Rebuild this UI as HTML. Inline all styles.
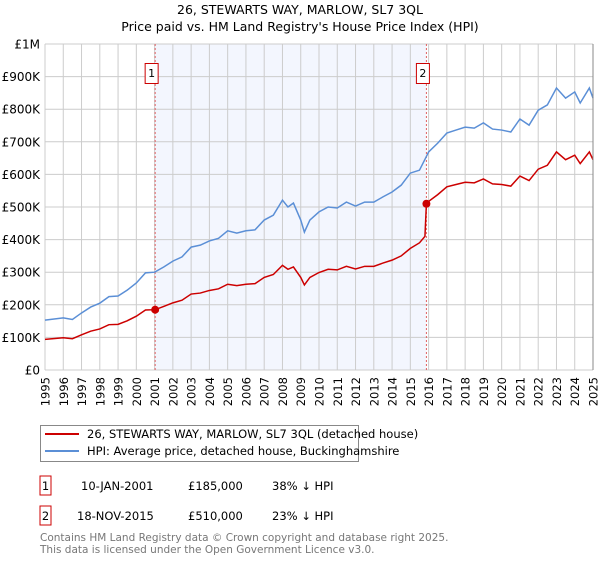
<!DOCTYPE html>
<html><head><meta charset="utf-8"><style>
body{margin:0;background:#fff;font-family:"Liberation Sans","DejaVu Sans",sans-serif}
svg text{font-family:"DejaVu Sans","Liberation Sans",sans-serif}
</style></head><body>
<svg width="600" height="560" xmlns="http://www.w3.org/2000/svg">
<text x="300" y="14" text-anchor="middle" font-size="12.5">26, STEWARTS WAY, MARLOW, SL7 3QL</text>
<text x="300" y="31" text-anchor="middle" font-size="12.5">Price paid vs. HM Land Registry's House Price Index (HPI)</text>
<g id="plot"></g>
<g>
<rect x="40.5" y="425.5" width="318" height="36" fill="#fff" stroke="#888"/>
<line x1="45" y1="434" x2="79" y2="434" stroke="#cc0000" stroke-width="2"/>
<text x="87" y="438" font-size="11.5">26, STEWARTS WAY, MARLOW, SL7 3QL (detached house)</text>
<line x1="45" y1="451" x2="79" y2="451" stroke="#5b8fd6" stroke-width="2"/>
<text x="87" y="455" font-size="11.5">HPI: Average price, detached house, Buckinghamshire</text>
</g>
<g font-size="11.5">
<rect x="40" y="476" width="11" height="19" fill="#fff" stroke="#cc0000"/>
<text x="45.5" y="490" text-anchor="middle">1</text>
<text x="81" y="490">10-JAN-2001</text><text x="188" y="490">£185,000</text><text x="272" y="490">38% ↓ HPI</text>
<rect x="40" y="506" width="11" height="19" fill="#fff" stroke="#cc0000"/>
<text x="45.5" y="520" text-anchor="middle">2</text>
<text x="77" y="520">18-NOV-2015</text><text x="188" y="520">£510,000</text><text x="272" y="520">23% ↓ HPI</text>
</g>
<text x="40" y="541" font-size="10.5" fill="#777">Contains HM Land Registry data © Crown copyright and database right 2025.</text>
<text x="40" y="553" font-size="10.5" fill="#777">This data is licensed under the Open Government Licence v3.0.</text>
</svg>
<script>
const years=[1995,1996,1997,1998,1999,2000,2001,2002,2003,2004,2005,2006,2007,2008,2009,2010,2011,2012,2013,2014,2015,2016,2017,2018,2019,2020,2021,2022,2023,2024,2025];
const yTicks=[0,100,200,300,400,500,600,700,800,900,1000];
const yTickLabels=["£0","£100K","£200K","£300K","£400K","£500K","£600K","£700K","£800K","£900K","£1M"];
const hpiT=[1995,1996,1996.5,1997,1997.5,1998,1998.5,1999,1999.5,2000,2000.5,2001,2001.5,2002,2002.5,2003,2003.5,2004,2004.5,2005,2005.5,2006,2006.5,2007,2007.5,2008,2008.3,2008.6,2009,2009.2,2009.5,2010,2010.5,2011,2011.5,2012,2012.5,2013,2013.5,2014,2014.5,2015,2015.5,2015.88,2016,2016.5,2017,2017.5,2018,2018.5,2019,2019.5,2020,2020.5,2021,2021.5,2022,2022.5,2023,2023.5,2024,2024.3,2024.8,2025];
const hpiV=[153,160,155,175,193,205,225,227,245,267,298,300,316,334,347,377,383,396,404,427,420,427,430,460,475,521,500,512,460,423,460,485,500,497,515,503,515,515,531,546,567,604,613,655,669,696,727,736,745,742,758,739,736,730,770,751,797,813,865,834,853,819,865,834];
const priceT=[1995,1996,1996.5,1997,1997.5,1998,1998.5,1999,1999.5,2000,2000.5,2001.03,2001.5,2002,2002.5,2003,2003.5,2004,2004.5,2005,2005.5,2006,2006.5,2007,2007.5,2008,2008.3,2008.6,2009,2009.2,2009.5,2010,2010.5,2011,2011.5,2012,2012.5,2013,2013.5,2014,2014.5,2015,2015.5,2015.8,2015.88,2016,2016.5,2017,2017.5,2018,2018.5,2019,2019.5,2020,2020.5,2021,2021.5,2022,2022.5,2023,2023.5,2024,2024.3,2024.8,2025];
const priceV=[94,99,96,108,119,126,139,140,151,165,184,185,195,206,214,233,236,244,249,263,259,263,265,284,293,321,309,316,284,261,284,299,309,307,318,310,318,318,328,337,350,373,390,410,510,517,538,562,569,576,574,586,571,569,564,595,581,616,628,669,645,659,633,669,645];
const salesT=[2001.03,2015.88];
const salesV=[185,510];
const salesLabel=["1","2"];
const X0=45,X1=593,Y0=370,Y1=44;
const x=t=>X0+(t-1995)/(2025-1995)*(X1-X0);
const y=v=>Y0-v/1000*(Y0-Y1);
const NS="http://www.w3.org/2000/svg";
const g=document.getElementById('plot');
function mk(tag,attrs,parent){const e=document.createElementNS(NS,tag);for(const k in attrs)e.setAttribute(k,attrs[k]);(parent||g).appendChild(e);return e;}
let e=mk('rect',{x:x(salesT[0]),y:Y1,width:x(salesT[1])-x(salesT[0]),height:Y0-Y1,fill:'#f3f6fe'});


years.forEach(yr=>{
 const l=mk('line',{x1:x(yr),x2:x(yr),y1:Y1,y2:Y0,stroke:'#cccccc','stroke-width':1});
 
 
 const t=mk('text',{x:0,y:0,'font-size':11.5,'text-anchor':'end',transform:`translate(${x(yr)+4.5},377) rotate(-90)`});
 t.textContent=yr;
 
 
});
yTicks.forEach((v,i)=>{
 const l=mk('line',{x1:X0,x2:X1,y1:y(v),y2:y(v),stroke:'#cccccc','stroke-width':1});
 
 
 const t=mk('text',{x:40,y:y(v)+4.5,'font-size':12,'text-anchor':'end'});
 t.textContent=yTickLabels[i];
 
 
});
salesT.forEach((s,i)=>{
 const l=mk('line',{x1:x(s),x2:x(s),y1:Y1,y2:Y0,stroke:'#e06060','stroke-width':1,'stroke-dasharray':'2,2'});
 
 
 const r=mk('rect',{x:x(s)-10,y:63.5,width:13,height:20,fill:'#fff',stroke:'#cc0000'});
 
 
 const t=mk('text',{x:x(s)-3.5,y:77,'font-size':11,'text-anchor':'middle'});
 t.textContent=salesLabel[i];
 
 
});
const hp=mk('polyline',{points:hpiT.map((t,i)=>x(t)+','+y(hpiV[i])).join(' '),fill:'none',stroke:'#5b8fd6','stroke-width':1.5});


const pp=mk('polyline',{points:priceT.map((t,i)=>x(t)+','+y(priceV[i])).join(' '),fill:'none',stroke:'#cc0000','stroke-width':1.5});


salesT.forEach((s,i)=>{
 const c=mk('circle',{cx:x(s),cy:y(salesV[i]),r:4,fill:'#cc0000'});
 
 
});
const ax=mk('line',{x1:X1,x2:X1,y1:Y1,y2:Y0,stroke:'#888','stroke-width':1});


</script>
</body></html>
